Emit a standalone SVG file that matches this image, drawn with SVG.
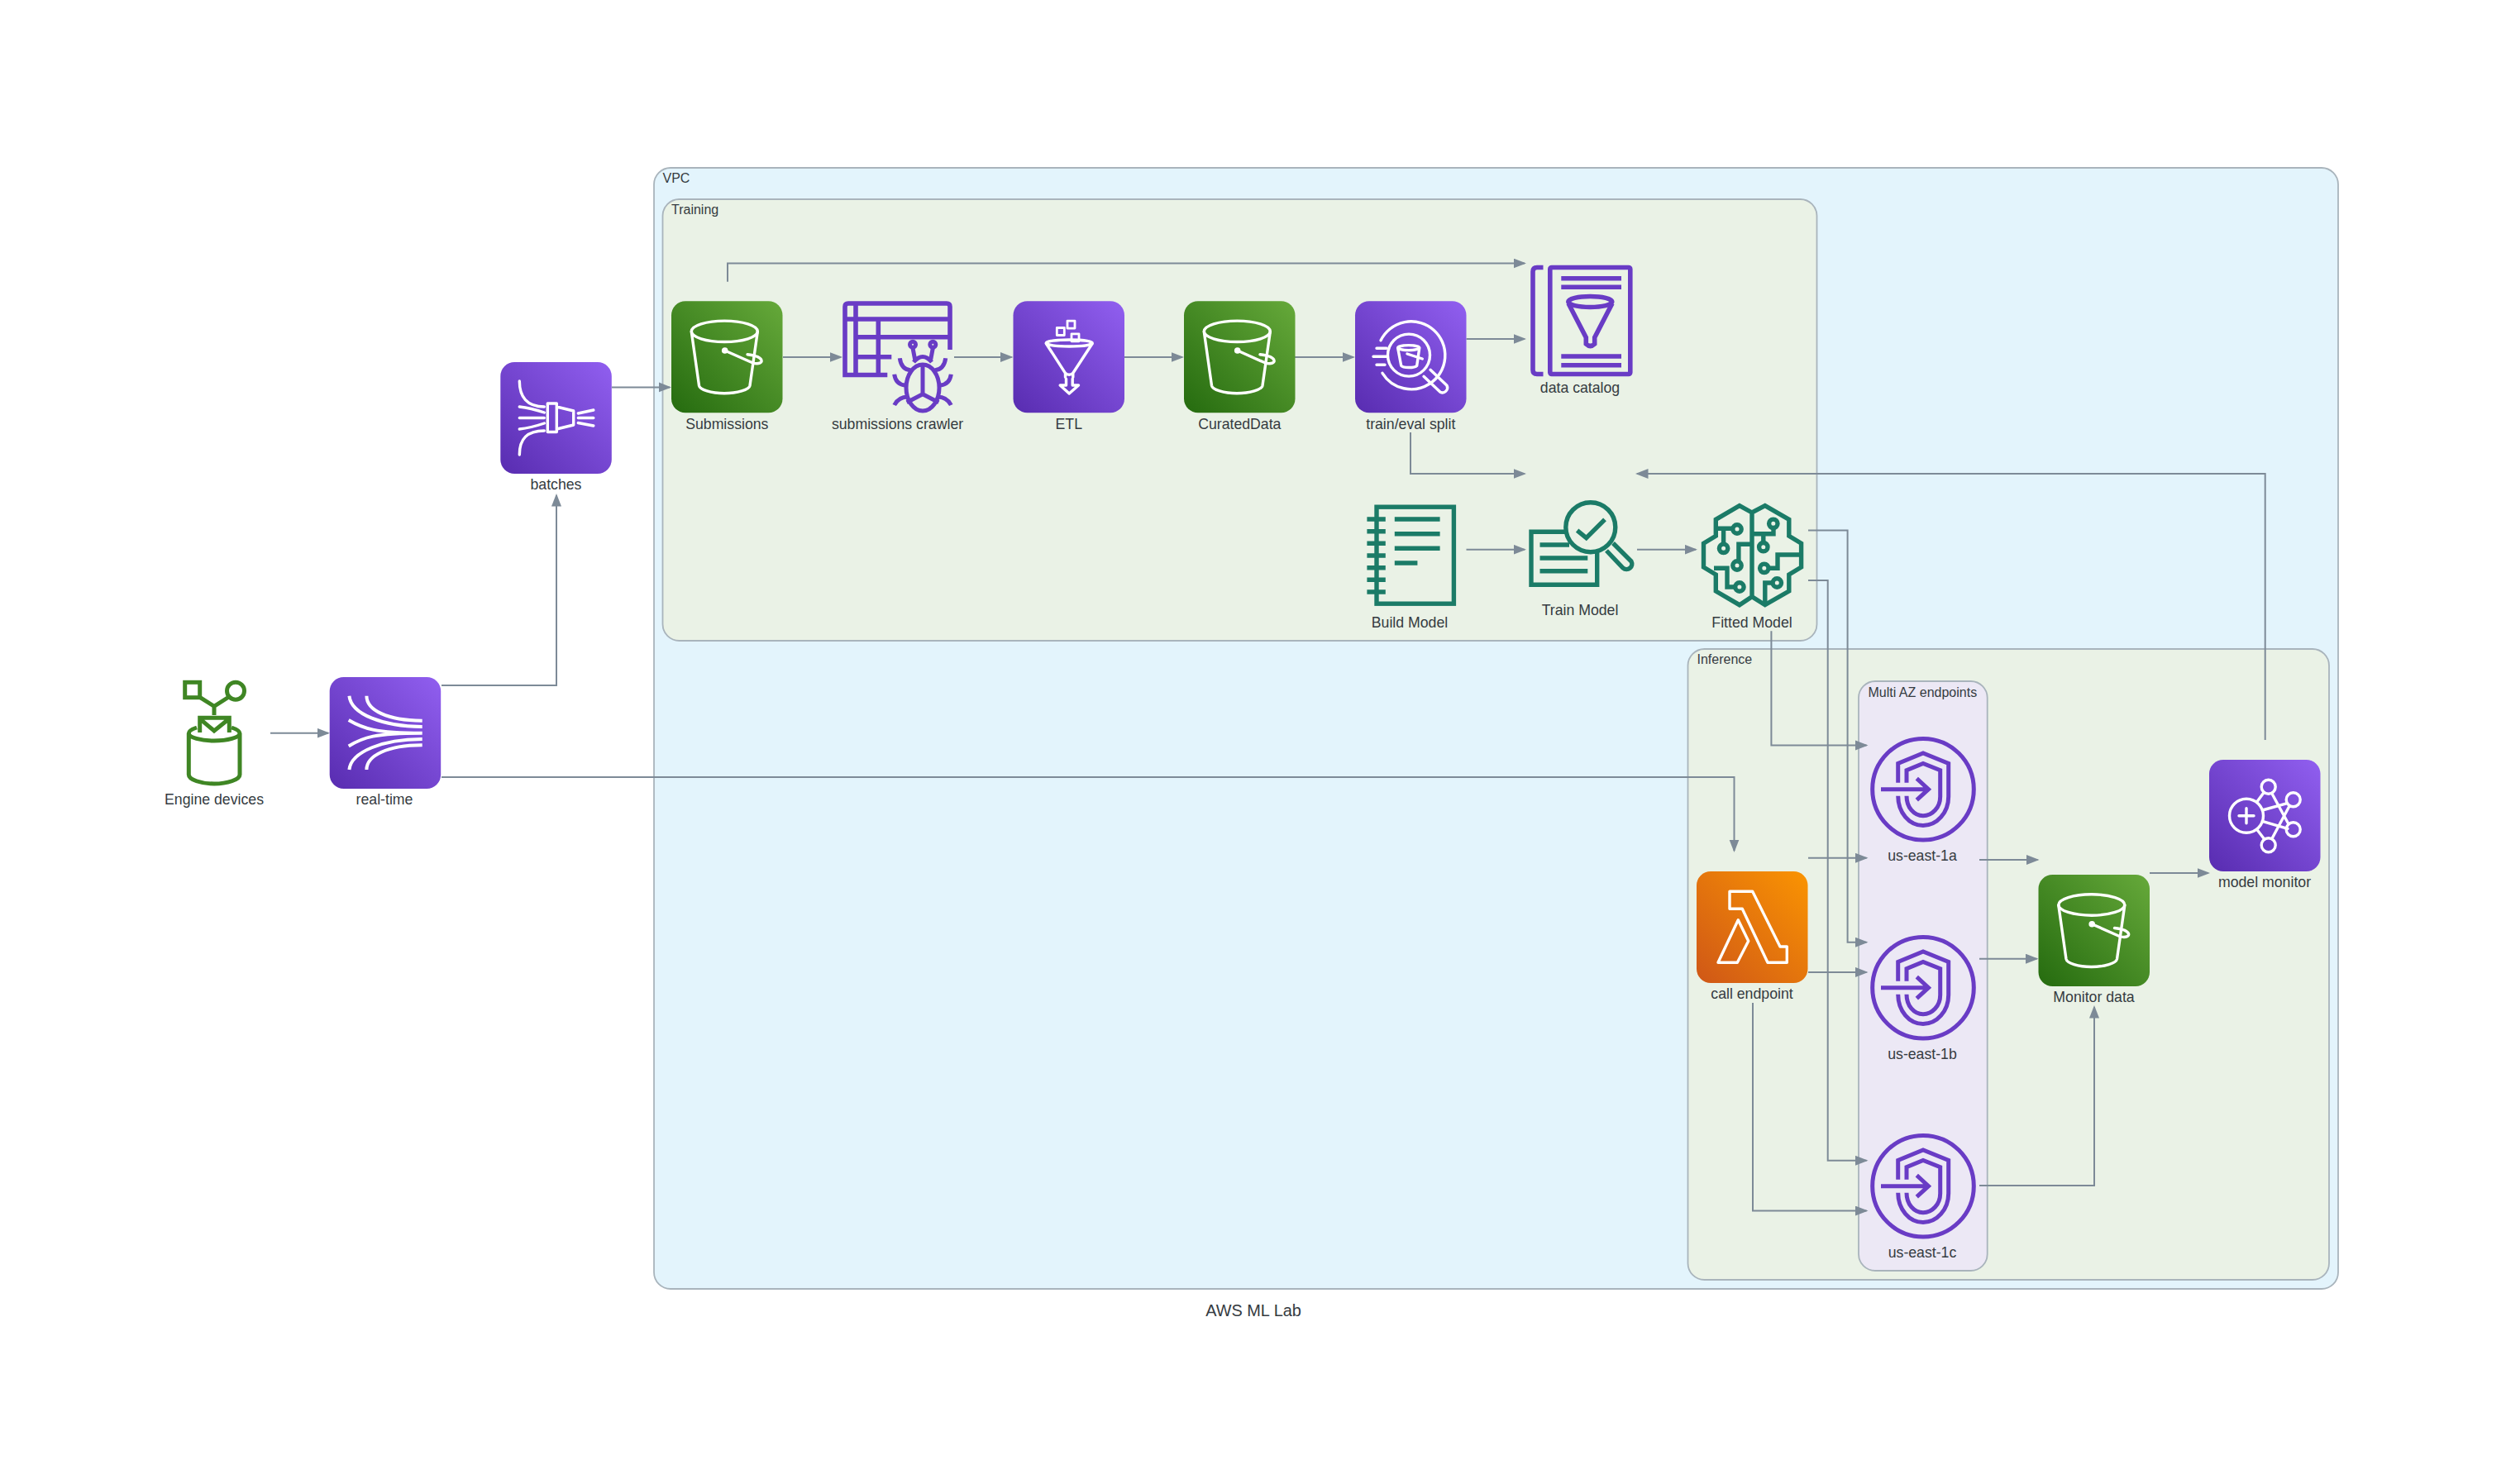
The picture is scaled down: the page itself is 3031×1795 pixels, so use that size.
<svg xmlns="http://www.w3.org/2000/svg" width="3031" height="1795" viewBox="0 0 3031 1795">
<style>
text{font-family:"Liberation Sans",Arial,sans-serif;fill:#353b41}
.l{font-size:17.7px;text-anchor:middle}
.g{font-size:16px}
.t{font-size:19.9px;text-anchor:middle}
.cl{stroke:#a9b4bc;stroke-width:1.8}
.c{fill:none;stroke:#7d8a97;stroke-width:2;marker-end:url(#arrow)}
.w{fill:none;stroke:#fff;stroke-width:3.4;stroke-linejoin:round;stroke-linecap:round}
.wb{fill:none;stroke:#fff;stroke-width:4}
.p{fill:none;stroke:#693cc5;stroke-width:5.6}
.e{fill:none;stroke:#693cc5;stroke-width:5}
.k{fill:none;stroke:#1b7b67;stroke-width:5.4}
.d{fill:none;stroke:#3f8624;stroke-width:5}
</style>
<defs>
<marker id="arrow" markerUnits="userSpaceOnUse" markerWidth="17" markerHeight="13" refX="13.5" refY="6" orient="auto"><path d="M0 0L15.5 6L0 12z" fill="#7d8a97"/></marker>
<linearGradient id="gg" x1="0" y1="1" x2="1" y2="0"><stop offset="0" stop-color="#256b0f"/><stop offset="1" stop-color="#66a93a"/></linearGradient>
<linearGradient id="gp" x1="0" y1="1" x2="1" y2="0"><stop offset="0" stop-color="#582cb0"/><stop offset="1" stop-color="#915ff0"/></linearGradient>
<linearGradient id="go" x1="0" y1="1" x2="1" y2="0"><stop offset="0" stop-color="#cf5717"/><stop offset="1" stop-color="#fa9402"/></linearGradient>
<g id="bucket">
<rect width="134.5" height="135" rx="17" fill="url(#gg)"/>
<g class="w"><ellipse cx="64.3" cy="36.5" rx="40" ry="12.7"/>
<path d="M24.3 37L33.5 102C34.5 107 48 111.5 64 111.5S94 107 95 102L104.3 37"/>
<path d="M64.7 59.7L98 74.5C106 77 110 74 109 71.5C108 68 100 65.5 92 64.5"/></g>
<circle cx="64.7" cy="59.7" r="3.8" fill="#fff"/>
</g>
<g id="endpoint" class="e">
<circle r="61.3"/>
<path d="M-51 0H5.7M-7.7-13L6.5 0L-7.7 13"/>
<path d="M-30.3-8V-31.3L0-43.7L30.7-31.3V8.7C30.7 28 17 43.7 0 43.7S-30.3 28-30.3 8"/>
<path d="M-20-8V-23L0-31.3L20.7-23V8.7C20.7 22 11 32 0 32S-20 22-20 8"/>
</g>
</defs>
<rect width="3031" height="1795" fill="#fff"/>
<g id="clusters">
<rect id="vpc" class="cl" x="791" y="203" width="2037" height="1356" rx="20" fill="#e3f4fc"/>
<rect id="training" class="cl" x="801.5" y="241" width="1396" height="534" rx="20" fill="#eaf2e6"/>
<rect id="inference" class="cl" x="2041.5" y="785" width="775.5" height="763" rx="20" fill="#eaf2e6"/>
<rect id="multiaz" class="cl" x="2248" y="824" width="155.7" height="713" rx="20" fill="#ece8f5"/>
<text class="g" x="801.5" y="220.7">VPC</text>
<text class="g" x="812" y="259.3">Training</text>
<text class="g" x="2052.5" y="803">Inference</text>
<text class="g" x="2259.5" y="842.5">Multi AZ endpoints</text>
</g>
<g id="connectors">
<path class="c" d="M327 886.7H397"/>
<path class="c" d="M534 829H673V599"/>
<path class="c" d="M534 940H2097.5V1029"/>
<path class="c" d="M740 468.4H810"/>
<path class="c" d="M947 432H1017"/>
<path class="c" d="M1154 432H1223.5"/>
<path class="c" d="M1360 432H1430"/>
<path class="c" d="M1566 432H1637"/>
<path class="c" d="M1773.5 410H1844"/>
<path class="c" d="M880 340.7V318.5H1844"/>
<path class="c" d="M1706 523V573H1844"/>
<path class="c" d="M2739.7 895V573H1980"/>
<path class="c" d="M1773.5 664.7H1844"/>
<path class="c" d="M1980 664.7H2051"/>
<path class="c" d="M2142.4 763.3V901.4H2257.5"/>
<path class="c" d="M2187 641.5H2234.6V1139.7H2257.5"/>
<path class="c" d="M2187 702H2210.7V1403.8H2257.5"/>
<path class="c" d="M2187 1037.8H2257.5"/>
<path class="c" d="M2187 1175.9H2257.5"/>
<path class="c" d="M2120 1213V1464.6H2257.5"/>
<path class="c" d="M2394 1040H2464.5"/>
<path class="c" d="M2394 1159.7H2463.5"/>
<path class="c" d="M2394 1434H2533V1218"/>
<path class="c" d="M2600 1056H2671"/>
</g>
<g id="engine-devices">
<g class="d">
<rect x="223.7" y="825.3" width="18" height="18.4"/>
<circle cx="285" cy="835.7" r="10.5"/>
<path d="M241.7 843.3L259 854.3L276 843.5M259 854.3V865"/>
<path d="M241.7 886V868.3H277.3V886M241.7 869.3L259 884L277.3 869.3"/>
<path d="M238 880C232 882 228.3 884 228.3 887V937C228.3 943 243 948 259 948S290 943 290 937V887C290 884 286 882 280 880M228.3 887C228.3 892 243 896 259 896S290 892 290 887"/>
</g>
<text class="l" x="259" y="973.3">Engine devices</text>
</g>
<g id="real-time" transform="translate(398.7 819)">
<rect width="134.5" height="135" rx="17" fill="url(#gp)"/>
<path class="wb" d="M44.7 22.7C44.7 40 70 52.7 112 52.7M23.7 22.7C26 45 65 60 112 60M23 52C40 62 55 67.7 112 67.7M23 83.5C40 73 55 67.7 112 67.7M23.7 112C26 90 65 75 112 75M44.7 112C44.7 95 70 82.3 112 82.3"/>
<text class="l" x="66.3" y="154.3">real-time</text>
</g>
<g id="batches" transform="translate(605.3 438)">
<rect width="134.5" height="135" rx="17" fill="url(#gp)"/>
<path class="w" d="M23 23C23 42 32 54 53 54M23 112C23 93 32 83 53 83M23 54C32 55 44 58 53 61M23 67.5H53M23 81C32 80 44 77 53 74"/>
<path class="w" d="M57 50H68V84.5H57ZM68 54L88.4 59V76L68 81M94 62L112.5 58M94 67.5H112.5M94 73.5L112.5 77"/>
<text class="l" x="67.2" y="154">batches</text>
</g>
<g id="submissions" transform="translate(812 364.3)">
<use href="#bucket"/>
<text class="l" x="67.3" y="154.7">Submissions</text>
</g>
<g id="submissions-crawler">
<g class="p">
<path d="M1149 423V371Q1149 367 1145 367H1026Q1022 367 1022 371V453.5H1073.3"/>
<path d="M1022 386H1149M1035 367V453.5M1062.3 386V453.5M1035 407.7H1149M1035 431.7H1078.3"/>
</g>
<g class="e">
<circle cx="1104" cy="416.7" r="3.5"/><circle cx="1128.3" cy="416.7" r="3.5"/>
<path d="M1104 421L1106.7 435M1128.3 421L1125.7 435M1105 438Q1116 425 1127 438"/>
<ellipse cx="1116" cy="469" rx="20" ry="28"/>
<path d="M1116 443V476.7L1096.7 486.7M1116 476.7L1135.3 486.7"/>
<path d="M1088.3 433.3Q1090 447 1101.7 448M1143.7 433.3Q1142 447 1130.3 448M1081.7 452.7Q1083.3 465 1095 466M1150.3 452.7Q1148.7 465 1137 466M1081.7 490Q1086.7 480 1098.3 480M1150.3 490Q1145.3 480 1133.7 480"/>
</g>
<text class="l" x="1085.5" y="519">submissions crawler</text>
</g>
<g id="etl" transform="translate(1225.5 364.3)">
<rect width="134.5" height="135" rx="17" fill="url(#gp)"/>
<g class="w">
<ellipse cx="67.7" cy="50.7" rx="28" ry="4"/>
<path d="M40 51.5L63 87Q67.5 91 72.3 87L95.5 51.5M63 87V92M72.3 87V92"/>
<rect x="52.8" y="32.2" width="9" height="9" stroke-width="2.8"/>
<rect x="65.5" y="23.8" width="9" height="9" stroke-width="2.8"/>
<rect x="70.5" y="39.5" width="9" height="9" stroke-width="2.8"/>
<path d="M64 94V101.7H56.7L67.7 111.7L79 101.7H71.7V94"/>
</g>
<text class="l" x="67.3" y="154.7">ETL</text>
</g>
<g id="curateddata" transform="translate(1432 364.3)">
<use href="#bucket"/>
<text class="l" x="67.3" y="154.7">CuratedData</text>
</g>
<g id="train-eval-split" transform="translate(1639 364.3)">
<rect width="134.5" height="135" rx="17" fill="url(#gp)"/>
<g class="w">
<path d="M31 47.5A41 41 0 1 1 90 100M33 87A41 41 0 0 0 90 100"/>
<circle cx="65" cy="65.3" r="25.5"/>
<path d="M26 57H38M22 67H38M26 77H36"/>
<ellipse cx="64.7" cy="56.3" rx="13" ry="3"/>
<path d="M51.7 57L55.7 78C58 81 72 81 74.7 78L77.7 57M63 63.7L81.3 69.7"/>
<path d="M91 83L111 102A6 6 0 0 1 103 110L83 91"/>
</g>
<text class="l" x="67.3" y="154.7">train/eval split</text>
</g>
<g id="data-catalog">
<g class="p">
<path d="M1866.5 323.5H1859Q1854 323.5 1854 328.5V447.5Q1854 452.5 1859 452.5H1866.5"/>
<rect x="1874.8" y="323.5" width="97" height="129" rx="2"/>
<path d="M1888.3 336.7H1961M1888.3 347.3H1961M1888.3 431H1961M1888.3 441.7H1961"/>
<ellipse cx="1923.3" cy="365" rx="26.5" ry="6.5"/>
<path d="M1897 367L1918.3 408.3V416Q1923.5 421 1928.7 416V408.3L1950 367"/>
</g>
<text class="l" x="1911" y="475">data catalog</text>
</g>
<g id="build-model">
<g class="k">
<rect x="1665" y="613.2" width="93.4" height="117"/>
<path d="M1653.4 628H1675.8M1653.4 642.7H1675.8M1653.4 657.3H1675.8M1653.4 672H1675.8M1653.4 686.7H1675.8M1653.4 701.3H1675.8M1653.4 716H1675.8"/>
<path d="M1686.8 628H1741.6M1686.8 645.7H1741.6M1686.8 663.3H1741.6M1686.8 681H1714.4"/>
</g>
<text class="l" x="1705" y="759">Build Model</text>
</g>
<g id="train-model">
<g class="k">
<path d="M1896 643.3H1852V707.3H1931.7V668"/>
<path d="M1862.5 659H1898M1862.5 675H1920.3M1862.5 690.7H1920.3"/>
<circle cx="1923.8" cy="637.7" r="30"/>
<path d="M1907.6 641.7L1918.6 650.7L1941 628.3"/>
<path d="M1951 657L1973 679A6.5 6.5 0 0 1 1963 687L1943 666"/>
</g>
<text class="l" x="1911" y="744">Train Model</text>
</g>
<g id="fitted-model">
<g class="k">
<path d="M2119 620L2103.9 611.7L2075.3 628.3V648.3L2060.5 657.3V686L2075.3 695V715L2103.9 731.7L2119 721.7L2134.8 731.7L2163.8 715V695L2178.6 686V657.3L2163.8 648.3V628.3L2134.8 611.7ZM2119 620V721.7"/>
<path d="M2075.3 639.3H2095.5M2084.6 639.3V658M2119 658.3H2102.9V678.3M2073 687.3H2089V710H2098M2119 645.7H2145V638.3M2132.8 645.7V656.7M2178.6 671H2150V687.3H2139.7M2134.8 730V705H2144"/>
<circle cx="2101" cy="640" r="5.2"/><circle cx="2084.6" cy="663.3" r="5.2"/><circle cx="2101" cy="684" r="5.2"/><circle cx="2103.9" cy="710" r="5.2"/>
<circle cx="2144.8" cy="633.3" r="5.2"/><circle cx="2132.8" cy="661.7" r="5.2"/><circle cx="2133.8" cy="687.3" r="5.2"/><circle cx="2149.3" cy="705" r="5.2"/>
</g>
<text class="l" x="2119" y="759">Fitted Model</text>
</g>
<g id="call-endpoint" transform="translate(2052 1054)">
<rect width="134.5" height="135" rx="17" fill="url(#go)"/>
<path class="w" d="M40 24.3H67.7L101 91H109.3V110.3H86L55.3 45.3H40ZM50.3 58.7L62.7 84.3L49.3 110.3H26Z"/>
<text class="l" x="67" y="154.4">call endpoint</text>
</g>
<g id="us-east-1a">
<use href="#endpoint" x="2326" y="954.7"/>
<text class="l" x="2325" y="1041">us-east-1a</text>
</g>
<g id="us-east-1b">
<use href="#endpoint" x="2326" y="1194.7"/>
<text class="l" x="2325" y="1281">us-east-1b</text>
</g>
<g id="us-east-1c">
<use href="#endpoint" x="2326" y="1434.7"/>
<text class="l" x="2325" y="1521">us-east-1c</text>
</g>
<g id="monitor-data" transform="translate(2465.5 1058)">
<use href="#bucket"/>
<text class="l" x="67" y="154">Monitor data</text>
</g>
<g id="model-monitor" transform="translate(2672 919)">
<rect width="134.5" height="135" rx="17" fill="url(#gp)"/>
<g class="w">
<circle cx="45" cy="67.7" r="20.5"/>
<path d="M36 67.7H54M45 58.7V76.7"/>
<circle cx="71.7" cy="32.7" r="8.5"/><circle cx="101.7" cy="48.3" r="8.5"/><circle cx="101.7" cy="84.3" r="8.5"/><circle cx="71.7" cy="103.3" r="8.5"/>
<path d="M66 39.7L57.7 51M76 41L96 77.7M76 95.3L97 56M64.3 61L94.3 52.7M64.3 74.3L95 83.3M57.7 84.3L66.7 96"/>
</g>
<text class="l" x="67" y="154">model monitor</text>
</g>
<text id="title" class="t" x="1516" y="1592">AWS ML Lab</text>
</svg>
